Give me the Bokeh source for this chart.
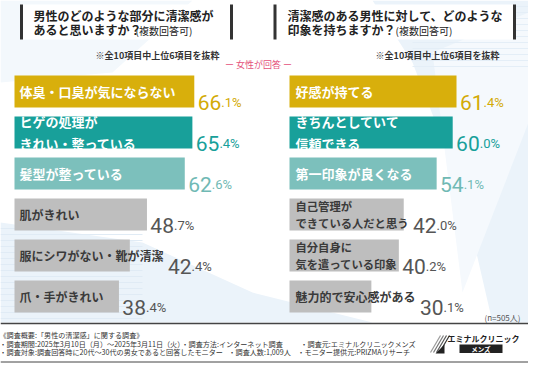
from bokeh.plotting import figure
from bokeh.models import Range1d, ColumnDataSource
from bokeh.core.properties import value
from bokeh.embed import file_html
from bokeh.resources import INLINE

# ---------------- data ----------------
left_labels = ["体臭・口臭が気にならない", "ヒゲの処理が\nきれい・整っている", "髪型が整っている",
               "肌がきれい", "服にシワがない・靴が清潔", "爪・手がきれい"]
left_values = [66.1, 65.4, 62.6, 48.7, 42.4, 38.4]
right_labels = ["好感が持てる", "きちんとしていて\n信頼できる", "第一印象が良くなる",
                "自己管理が\nできている人だと思う", "自分自身に\n気を遣っている印象", "魅力的で安心感がある"]
right_values = [61.4, 60.0, 54.1, 42.0, 40.2, 30.1]
ranks = [0, 1, 2, 3, 4, 5]

left_title = ["男性のどのような部分に清潔感が", "あると思いますか？"]
right_title = ["清潔感のある男性に対して、どのような", "印象を持ちますか？"]
title_suffix = "(複数回答可)"
note_text = "※全10項目中上位6項目を抜粋"
respondent = "ー 女性が回答 ー"
n_text = "(n=505人)"
footer_lines = [
    "《調査概要:「男性の清潔感」に関する調査》",
    "・調査期間:2025年3月10日（月）～2025年3月11日（火）",
    "・調査方法:インターネット調査",
    "・調査元:エミナルクリニックメンズ",
    "・調査対象:調査回答時に20代～30代の男女であると回答したモニター",
    "・調査人数:1,009人",
    "・モニター提供元:PRIZMAリサーチ",
]
logo_name = "エミナルクリニック"
logo_sub = "メンズ"

# ---------------- styles ----------------
bar_colors = ["#D8AF0C", "#18A09A", "#7CC0BC", "#BEBEBE", "#BEBEBE", "#BEBEBE"]
val_colors = ["#D3AA05", "#18A09A", "#70B9B4", "#555555", "#555555", "#555555"]
lab_colors = ["#FFFFFF", "#FFFFFF", "#FFFFFF", "#3A3A3A", "#3A3A3A", "#3A3A3A"]
left_sizes = [13, 13, 13, 12, 12, 12]
right_sizes = [13, 13, 13, 11.3, 11.3, 12]
JP = "Noto Sans CJK JP"
NUM = "Roboto"

W, H = 528, 363
k = 2.72            # px per percent
L0, R0 = 22, 297    # pixel of 0 %
C0, PITCH = 99, 41  # first row centre, row pitch (px)

p = figure(width=W, height=H, output_backend="svg", toolbar_location=None,
           x_range=Range1d(8, 536), y_range=Range1d(371, 8),
           x_axis_type=None, y_axis_type=None, min_border=0,
           background_fill_color="white", border_fill_color="white")
p.outline_line_color = None
p.grid.visible = False
p.extra_x_ranges = {
    "L": Range1d((8 - L0) / k, (536 - L0) / k),
    "R": Range1d((8 - R0) / k, (536 - R0) / k),
}
p.extra_y_ranges = {"rank": Range1d((371 - C0) / PITCH, (8 - C0) / PITCH)}

# ---------------- background ----------------
p.patches(xs=[[380, 536, 536, 500, 470, 420], [8, 150, 260, 380, 8], [440, 536, 536, 470],
              [8, 200, 120, 8]],
          ys=[[8, 8, 330, 330, 200, 70], [230, 250, 300, 330, 330], [60, 20, 130, 300],
              [8, 8, 80, 90]],
          fill_color=["#EBF3FA", "#EBF3FA", "#F5F9FD", "#F3F8FC"], line_color=None)
for yy in range(236, 330, 6):
    p.segment(x0=8, y0=yy, x1=150, y1=yy, line_color="#E0EBF5", line_width=1)
for yy in range(14, 80, 6):
    p.segment(x0=420, y0=yy, x1=536, y1=yy, line_color="#E4EEF7", line_width=1)

# ---------------- title boxes ----------------
p.quad(left=[30, 283], right=[239, 522], top=[12, 12], bottom=[47, 47],
       fill_color="white", line_color=None)
p.quad(left=[27.5, 237.5, 281, 520.5], right=[30.5, 240.5, 284, 523.5],
       top=[12] * 4, bottom=[47] * 4, fill_color="#333333", line_color=None)

p.text(x=[41, 41, 295, 295], y=[23, 37, 23, 37],
       text=[left_title[0], left_title[1], right_title[0], right_title[1]],
       text_font=value(JP), text_font_style="bold", text_font_size="12px",
       text_color="#222222", text_baseline="middle", text_align="left")
p.text(x=[143, 403], y=[37.5, 37.5], text=[title_suffix, title_suffix],
       text_font=value(JP), text_font_size="10px", text_color="#222222",
       text_baseline="middle", text_align="left")
p.text(x=[227, 507], y=[63, 63], text=[note_text, note_text],
       text_font=value(JP), text_font_style="bold", text_font_size="9px",
       text_color="#333333", text_baseline="middle", text_align="right")
p.text(x=[266], y=[72], text=[respondent], text_font=value(JP),
       text_font_size="9px", text_color="#E4507B", text_baseline="middle", text_align="center")

# ---------------- bars ----------------
def panel(labels, values, rng, sizes, lab_px):
    whole = [f"{v:.1f}".split(".")[0] for v in values]
    frac = ["." + f"{v:.1f}".split(".")[1] + "%" for v in values]
    lab_end = [(lab_px + max(len(s) for s in lab.split("\n")) * fs) / k
               for lab, fs in zip(labels, sizes)]
    src = ColumnDataSource(dict(
        y=ranks, v=values, lab=labels, color=bar_colors, vcol=val_colors,
        lcol=lab_colors, size=[f"{s}px" for s in sizes],
        vx=[max(v + 6 / k, e + 7 / k) + 21 / k for v, e in zip(values, lab_end)],
        vy=[r + 11 / PITCH for r in ranks],
        lx=[lab_px / k] * len(values), whole=whole, frac=frac))
    p.hbar(y="y", left=0, right="v", height=32 / PITCH, fill_color="color",
           line_color=None, source=src, x_range_name=rng, y_range_name="rank")
    p.text(x="lx", y="y", text="lab", source=src, x_range_name=rng, y_range_name="rank",
           text_font=value(JP), text_font_style="bold", text_font_size="size",
           text_color="lcol", text_baseline="middle",
           text_align="left", text_line_height=1.12)
    p.text(x="vx", y="vy", text="whole", source=src, x_range_name=rng, y_range_name="rank",
           text_font=value(NUM), text_font_size="21px", text_color="vcol",
           text_baseline="alphabetic", text_align="right")
    p.text(x="vx", y="vy", text="frac", source=src, x_range_name=rng, y_range_name="rank",
           text_font=value(NUM), text_font_size="13px", text_color="vcol",
           text_baseline="alphabetic", text_align="left")

panel(left_labels, left_values, "L", left_sizes, 5)
panel(right_labels, right_values, "R", right_sizes, 6)

# ---------------- footer ----------------
p.text(x=[528], y=[325], text=[n_text], text_font=value(JP), text_font_size="8px",
       text_color="#555555", text_baseline="middle", text_align="right")
p.quad(left=[8], right=[536], top=[332], bottom=[369], fill_color="white", line_color=None)
p.segment(x0=[8], y0=[331], x1=[536], y1=[331], line_color="#444444", line_width=1.5)
p.segment(x0=[8], y0=[369.5], x1=[536], y1=[369.5], line_color="#444444", line_width=1)

p.text(x=[7, 7, 189, 308, 7, 236, 305], y=[342, 351, 351, 351, 359.5, 359.5, 359.5],
       text=footer_lines, text_font=value(JP), text_font_size="7.1px",
       text_color="#333333", text_baseline="middle", text_align="left")

# logo
p.segment(x0=[438, 441, 444, 447], y0=[360, 360, 360, 360],
          x1=[448, 451, 454, 457], y1=[343, 343, 343, 343],
          line_color=["#999999", "#777777", "#555555", "#333333"], line_width=1.2)
p.patches(xs=[[443, 452, 452]], ys=[[361, 361, 352]], fill_color="#222222", line_color=None)
p.text(x=[455], y=[346], text=[logo_name], text_font=value(JP), text_font_style="bold",
       text_font_size="8px", text_color="#222222", text_baseline="middle", text_align="left")
p.quad(left=[467], right=[510], top=[352], bottom=[360.5], fill_color="#222222", line_color=None)
p.text(x=[488.5], y=[356.3], text=[logo_sub], text_font=value(JP), text_font_style="bold",
       text_font_size="6.5px", text_color="white", text_baseline="middle", text_align="center")

open("out.html", "w").write(file_html(p, INLINE))
